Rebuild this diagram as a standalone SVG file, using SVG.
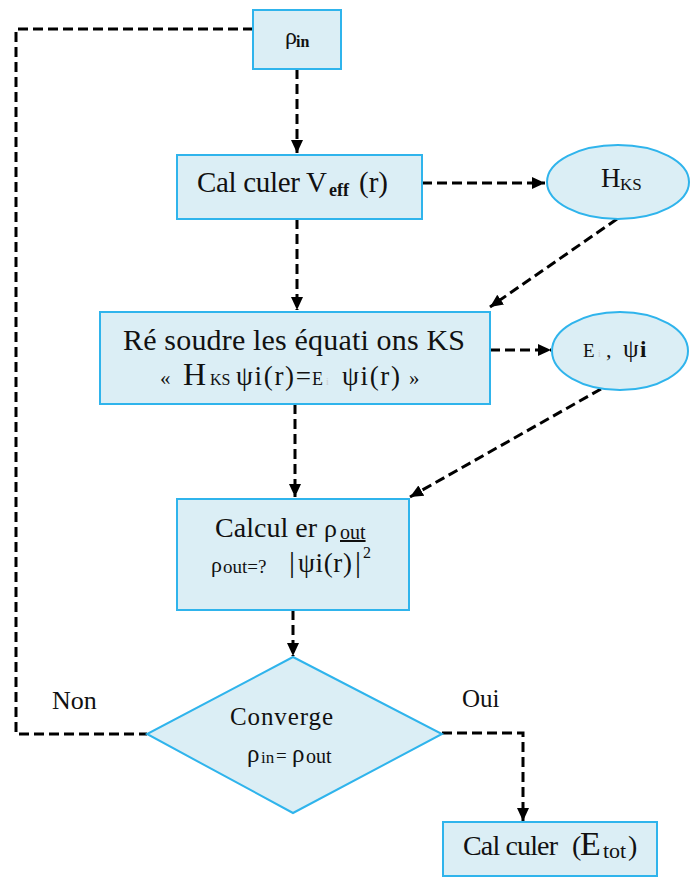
<svg xmlns="http://www.w3.org/2000/svg" width="690" height="878" viewBox="0 0 690 878" font-family="'Liberation Serif', 'DejaVu Serif', serif">
<defs>
<marker id="arr" markerUnits="userSpaceOnUse" markerWidth="14" markerHeight="14" refX="13" refY="7" orient="auto">
<path d="M0,1 L13,7 L0,13 Z" fill="#000"/>
</marker>
<style>
.n{fill:#dbeef5;stroke:#2fb4ec;stroke-width:2}
.c{fill:none;stroke:#000;stroke-width:3;stroke-dasharray:10 5}
.t{font-family:'Liberation Serif','DejaVu Serif',serif;fill:#111}
</style>
</defs>
<rect width="690" height="878" fill="#fff"/>
<g id="connectors">
<path class="c" d="M297,69 V153" marker-end="url(#arr)"/>
<path class="c" d="M253,29 H16 V734 H147"/>
<path class="c" d="M422,183 H545" marker-end="url(#arr)"/>
<path class="c" d="M297,219 V310" marker-end="url(#arr)"/>
<path class="c" d="M617,219 L490,307" marker-end="url(#arr)"/>
<path class="c" d="M490,350 H551" marker-end="url(#arr)"/>
<path class="c" d="M295,404 V497" marker-end="url(#arr)"/>
<path class="c" d="M601,389 L410,497" marker-end="url(#arr)"/>
<path class="c" d="M293,610 V656" marker-end="url(#arr)"/>
<path class="c" d="M442,733 H523 V821" marker-end="url(#arr)"/>
</g>
<g id="rho_in">
<rect class="n" x="253" y="10" width="88" height="59"/>
<text class="t" x="285" y="44" font-size="24">ρ<tspan x="296" font-size="16" font-weight="bold" dy="3">in</tspan></text>
</g>
<g id="veff">
<rect class="n" x="177" y="155" width="245" height="64"/>
<text class="t" x="197" y="192" font-size="29"><tspan textLength="130" lengthAdjust="spacing">Cal culer V</tspan><tspan x="329" font-size="18" font-weight="bold" dy="4">eff</tspan><tspan x="359" dy="-4">(r)</tspan></text>
</g>
<g id="hks">
<ellipse class="n" cx="618" cy="182" rx="71" ry="37"/>
<text class="t" x="601" y="187" font-size="27">H<tspan x="620" font-size="17" dy="3">KS</tspan></text>
</g>
<g id="resoudre">
<rect class="n" x="100" y="312" width="390" height="92"/>
<text class="t" x="123" y="350" font-size="30" textLength="342" lengthAdjust="spacing">Ré soudre les équati ons KS</text>
<text class="t" x="160" y="385" font-size="21">«<tspan x="183" font-size="32">H</tspan><tspan x="210" font-size="16">KS</tspan><tspan x="236" font-size="27" textLength="75" lengthAdjust="spacing">ψi(r)=</tspan><tspan x="312" font-size="18">E</tspan><tspan x="326" font-size="10" fill="#ccc">i</tspan><tspan x="342" font-size="27" textLength="58" lengthAdjust="spacing">ψi(r)</tspan><tspan x="409">»</tspan></text>
</g>
<g id="e_psi">
<ellipse class="n" cx="620" cy="351" rx="68" ry="39"/>
<text class="t" x="583" y="357" font-size="19">E<tspan x="598" font-size="10" fill="#ccc">i</tspan><tspan x="606" font-size="22">,</tspan><tspan x="623" font-size="25">ψ</tspan><tspan x="640" font-size="23" font-weight="bold">i</tspan></text>
</g>
<g id="rho_out">
<rect class="n" x="177" y="499" width="232" height="111"/>
<text class="t" x="215" y="537" font-size="28"><tspan textLength="102" lengthAdjust="spacing">Calcul er</tspan><tspan x="324" font-size="26">ρ</tspan><tspan x="340" font-size="20" text-decoration="underline" dy="2">out</tspan></text>
<text class="t" x="211" y="572" font-size="22">ρ<tspan x="223" font-size="19" dy="1">out=?</tspan><tspan x="289" font-size="30" dy="-1">|</tspan><tspan x="298" font-size="27" textLength="54" lengthAdjust="spacing">ψi(r)</tspan><tspan x="355" font-size="30">|</tspan><tspan x="363" y="558" font-size="16">2</tspan></text>
</g>
<g id="converge">
<polygon class="n" points="293,657 442,734 293,813 147,734"/>
<text class="t" x="230" y="725" font-size="25" textLength="103" lengthAdjust="spacing">Converge</text>
<text class="t" x="247" y="762" font-size="25">ρ<tspan x="261" font-size="17" dy="1">in</tspan><tspan x="276" font-size="19" dy="-1">=</tspan><tspan x="292">ρ</tspan><tspan x="306" font-size="20" dy="1">out</tspan></text>
</g>
<g id="etot">
<rect class="n" x="443" y="822" width="214" height="54"/>
<text class="t" x="463" y="855" font-size="28"><tspan textLength="95" lengthAdjust="spacing">Cal culer</tspan><tspan x="572">(</tspan><tspan x="580" font-size="34">E</tspan><tspan x="603" font-size="22" dy="3">tot</tspan><tspan x="628" dy="-3">)</tspan></text>
</g>
<g id="labels">
<text class="t" x="52" y="709" font-size="26">Non</text>
<text class="t" x="462" y="707" font-size="25">Oui</text>
</g>
</svg>
